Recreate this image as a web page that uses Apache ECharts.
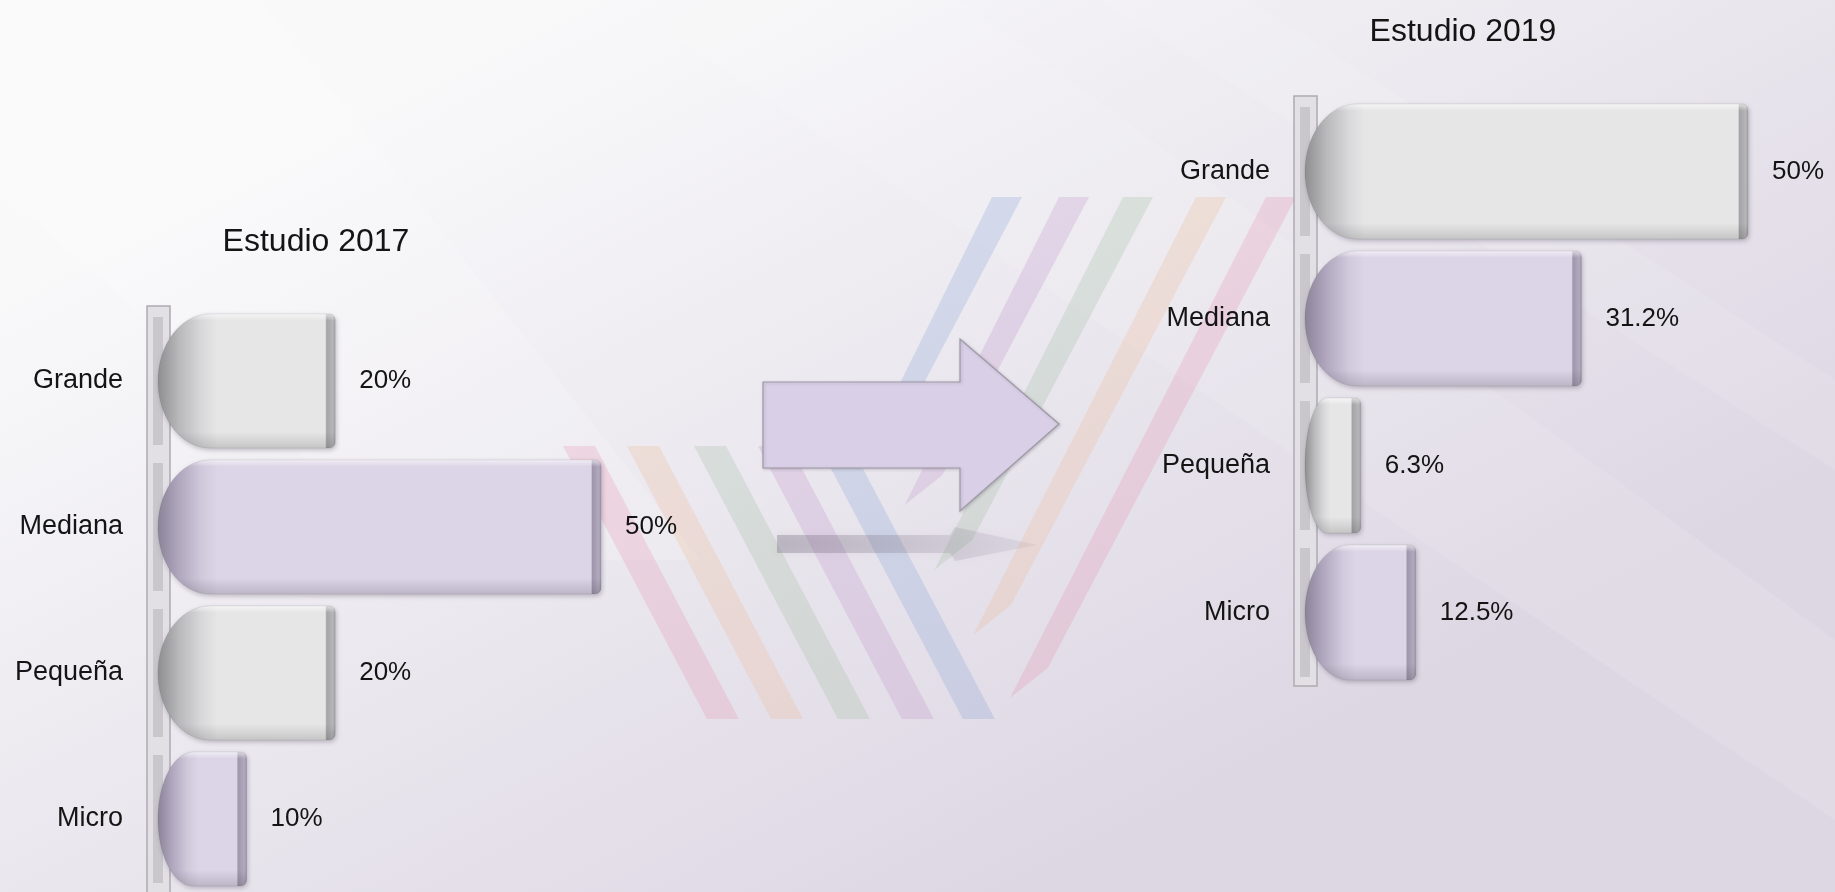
<!DOCTYPE html>
<html>
<head>
<meta charset="utf-8">
<title>Estudio 2017 / Estudio 2019</title>
<script src="https://cdn.jsdelivr.net/npm/echarts@6/dist/echarts.min.js"></script>
<style>
html, body { margin: 0; padding: 0; background: #f2f0f4; }
#main { width: 1835px; height: 892px; }
</style>
</head>
<body>
<div id="main"></div>
<script>
// datos ------------------------------------------------
var categories = ['Grande', 'Mediana', 'Pequeña', 'Micro'];
var values2017 = [20, 50, 20, 10];
var values2019 = [50, 31.2, 6.3, 12.5];
var titles = ['Estudio 2017', 'Estudio 2019'];

// estilo -----------------------------------------------
var FONT = '"Liberation Sans", Arial, sans-serif';
var tones = ['gray', 'purple', 'gray', 'purple'];
var palette = {
    gray: { edge: '#8e8e90', mid: '#b8b8ba', soft: '#d9d9db', body: '#e6e6e7', strip: '#a4a4a6', strip2: '#b6b6b8' },
    purple: { edge: '#8b8398', mid: '#b0a7be', soft: '#d1c9dc', body: '#dcd4e7', strip: '#9f96ac', strip2: '#b1a9bd' }
};

function barOutline(x0, y0, w, h, rx) {
    var x1 = x0 + w, ry = h / 2, cx = x0 + rx, cy = y0 + ry;
    var cr = Math.max(0, Math.min(6, (w - rx) / 2));
    var pts = [[cx, y0]];
    var i, a;
    for (i = 0; i <= 6; i++) {
        a = -Math.PI / 2 + (Math.PI / 2) * i / 6;
        pts.push([x1 - cr + cr * Math.cos(a), y0 + cr + cr * Math.sin(a)]);
    }
    for (i = 0; i <= 6; i++) {
        a = (Math.PI / 2) * i / 6;
        pts.push([x1 - cr + cr * Math.cos(a), y0 + h - cr + cr * Math.sin(a)]);
    }
    for (i = 0; i <= 40; i++) {
        a = Math.PI / 2 + Math.PI * i / 40;
        pts.push([cx + rx * Math.cos(a), cy + ry * Math.sin(a)]);
    }
    return pts;
}

function makeBarRenderer(frameExtra) {
    return function (params, api) {
        var val = api.value(0);
        var idx = api.value(1);
        var start = api.coord([0, idx]);
        var end = api.coord([val, idx]);
        var band = api.size([0, 1])[1];
        var h = band * 0.918;
        var x0 = start[0], x1 = end[0], y0 = start[1] - h / 2;
        var w = x1 - x0;
        var rx = Math.min(52, w * 0.4);
        var tone = palette[tones[idx]];
        var cs = params.coordSys;
        var children = [];

        // barra del eje (marco + segmento)
        if (params.dataIndex === 0) {
            children.push({
                type: 'rect', z2: 0,
                shape: { x: cs.x - 11, y: cs.y - 2, width: 23, height: cs.height + frameExtra },
                style: { fill: '#e2e0e5', stroke: '#adabb1', lineWidth: 1.5 }
            });
        }
        children.push({
            type: 'rect', z2: 1,
            shape: { x: cs.x - 5, y: y0 + 3, width: 10, height: h - 6 },
            style: { fill: '#c9c7cc' }
        });

        var f = function (px) { return Math.max(0, Math.min(1, px / w)); };
        var fill = new echarts.graphic.LinearGradient(x0, 0, x1, 0, [
            { offset: 0, color: tone.edge },
            { offset: f(rx * 0.4), color: tone.mid },
            { offset: f(rx * 0.85), color: tone.soft },
            { offset: f(rx * 1.15), color: tone.body },
            { offset: f(w - 10), color: tone.body },
            { offset: f(w - 8.5), color: tone.strip },
            { offset: f(w - 2.5), color: tone.strip2 },
            { offset: 1, color: tone.strip }
        ], true);
        var shade = new echarts.graphic.LinearGradient(0, y0, 0, y0 + h, [
            { offset: 0, color: 'rgba(255,255,255,0.6)' },
            { offset: 0.05, color: 'rgba(255,255,255,0)' },
            { offset: 0.88, color: 'rgba(0,0,0,0)' },
            { offset: 1, color: 'rgba(0,0,0,0.14)' }
        ], true);
        var pts = barOutline(x0, y0, w, h, rx);
        children.push({
            type: 'polygon', z2: 10,
            shape: { points: pts },
            style: {
                fill: fill,
                shadowBlur: 5, shadowColor: 'rgba(60,50,70,0.3)',
                shadowOffsetX: 1, shadowOffsetY: 2
            }
        });
        children.push({
            type: 'polygon', z2: 11,
            shape: { points: pts },
            style: { fill: shade, stroke: 'rgba(0,0,0,0.07)', lineWidth: 1 }
        });
        children.push({
            type: 'text', z2: 12,
            style: {
                text: val + '%',
                x: x1 + 24, y: start[1],
                fill: '#141414',
                font: '26px ' + FONT,
                align: 'left', verticalAlign: 'middle',
                textAlign: 'left', textVerticalAlign: 'middle'
            }
        });
        return { type: 'group', children: children };
    };
}

function stripe(pts, color) {
    return { type: 'polygon', z: -18, silent: true, shape: { points: pts }, style: { fill: color } };
}

var stripeColors = [
    'rgba(228,140,170,0.24)',
    'rgba(238,180,140,0.24)',
    'rgba(160,190,160,0.26)',
    'rgba(195,150,205,0.28)',
    'rgba(140,165,215,0.28)'
];

var decor = [];
// fondo
decor.push({
    type: 'rect', z: -20, silent: true,
    shape: { x: 0, y: 0, width: 1835, height: 892 },
    style: {
        fill: new echarts.graphic.LinearGradient(0.3, 0, 0.55, 1, [
            { offset: 0, color: '#f9f9fa' },
            { offset: 0.5, color: '#ebe8ef' },
            { offset: 1, color: '#ddd7e3' }
        ])
    }
});
decor.push({ type: 'polygon', z: -19, silent: true, shape: { points: [[0, 0], [260, 0], [700, 560], [420, 560], [0, 190]] }, style: { fill: 'rgba(255,255,255,0.16)' } });
decor.push({ type: 'polygon', z: -19, silent: true, shape: { points: [[620, 0], [960, 0], [1835, 640], [1835, 820]] }, style: { fill: 'rgba(255,255,255,0.1)' } });
decor.push({ type: 'polygon', z: -19, silent: true, shape: { points: [[1100, 0], [1250, 0], [1835, 380], [1835, 470]] }, style: { fill: 'rgba(255,255,255,0.1)' } });

// franjas izquierda (bajan a la derecha)
[563, 627, 694, 758, 819].forEach(function (xt, i) {
    var dx = 0.527 * (719 - 446);
    decor.push(stripe([[xt, 446], [xt + 32, 446], [xt + dx + 32, 719], [xt + dx, 719]], stripeColors[i]));
});
// franjas derecha (suben a la derecha)
var rightStripes = [[992, 440, 4], [1059, 505, 3], [1123, 570, 2], [1196, 635, 1], [1266, 698, 0]];
rightStripes.forEach(function (s) {
    var xt = s[0], yb = s[1];
    var dl = 0.527 * (yb - 197);
    decor.push(stripe([[xt, 197], [xt + 30, 197], [xt + 30 - 0.527 * (yb - 30 - 197), yb - 30], [xt - dl + 8, yb]], stripeColors[s[2]]));
});

// flecha
decor.push({
    type: 'polygon', z: -16, silent: true,
    shape: { points: [[777, 535], [950, 535], [955, 527], [1037, 545], [955, 561], [950, 553], [777, 553]] },
    style: {
        fill: new echarts.graphic.LinearGradient(0, 0, 1, 0, [
            { offset: 0, color: 'rgba(110,100,120,0.32)' },
            { offset: 1, color: 'rgba(110,100,120,0.08)' }
        ]),
        shadowBlur: 8, shadowColor: 'rgba(110,100,120,0.3)'
    }
});
decor.push({
    type: 'polygon', z: -15, silent: true,
    shape: { points: [[763, 382], [960, 382], [960, 339], [1059, 424], [960, 511], [960, 468], [763, 468]] },
    style: {
        fill: '#d9cfe7', stroke: '#9d99a3', lineWidth: 1.2,
        shadowBlur: 3, shadowColor: 'rgba(80,70,90,0.25)', shadowOffsetX: 1, shadowOffsetY: 1
    }
});

var myChart = echarts.init(document.getElementById('main'));

var axisLabelStyle = { fontSize: 27, color: '#141414', fontFamily: FONT, margin: 35 };

var option = {
    animation: false,
    title: [
        { text: titles[0], left: 311, top: 221, textAlign: 'center',
          textStyle: { fontSize: 32, fontWeight: 'normal', color: '#141414', fontFamily: FONT } },
        { text: titles[1], left: 1458, top: 11, textAlign: 'center',
          textStyle: { fontSize: 32, fontWeight: 'normal', color: '#141414', fontFamily: FONT } }
    ],
    graphic: decor,
    grid: [
        { left: 158, top: 308, width: 443, height: 588 },
        { left: 1305, top: 98, width: 443, height: 588 }
    ],
    xAxis: [
        { gridIndex: 0, type: 'value', min: 0, max: 50, show: false },
        { gridIndex: 1, type: 'value', min: 0, max: 50, show: false }
    ],
    yAxis: [
        { gridIndex: 0, type: 'category', data: categories, inverse: true,
          axisLine: { show: false }, axisTick: { show: false }, splitLine: { show: false },
          axisLabel: axisLabelStyle },
        { gridIndex: 1, type: 'category', data: categories, inverse: true,
          axisLine: { show: false }, axisTick: { show: false }, splitLine: { show: false },
          axisLabel: axisLabelStyle }
    ],
    series: [
        {
            name: titles[0], type: 'custom',
            xAxisIndex: 0, yAxisIndex: 0,
            renderItem: makeBarRenderer(20),
            encode: { x: 0, y: 1 },
            data: values2017.map(function (v, i) { return [v, i]; })
        },
        {
            name: titles[1], type: 'custom',
            xAxisIndex: 1, yAxisIndex: 1,
            renderItem: makeBarRenderer(2),
            encode: { x: 0, y: 1 },
            data: values2019.map(function (v, i) { return [v, i]; })
        }
    ]
};
myChart.setOption(option);

window.addEventListener('resize', function () {
    myChart.resize();
});
</script>
</body>
</html>
